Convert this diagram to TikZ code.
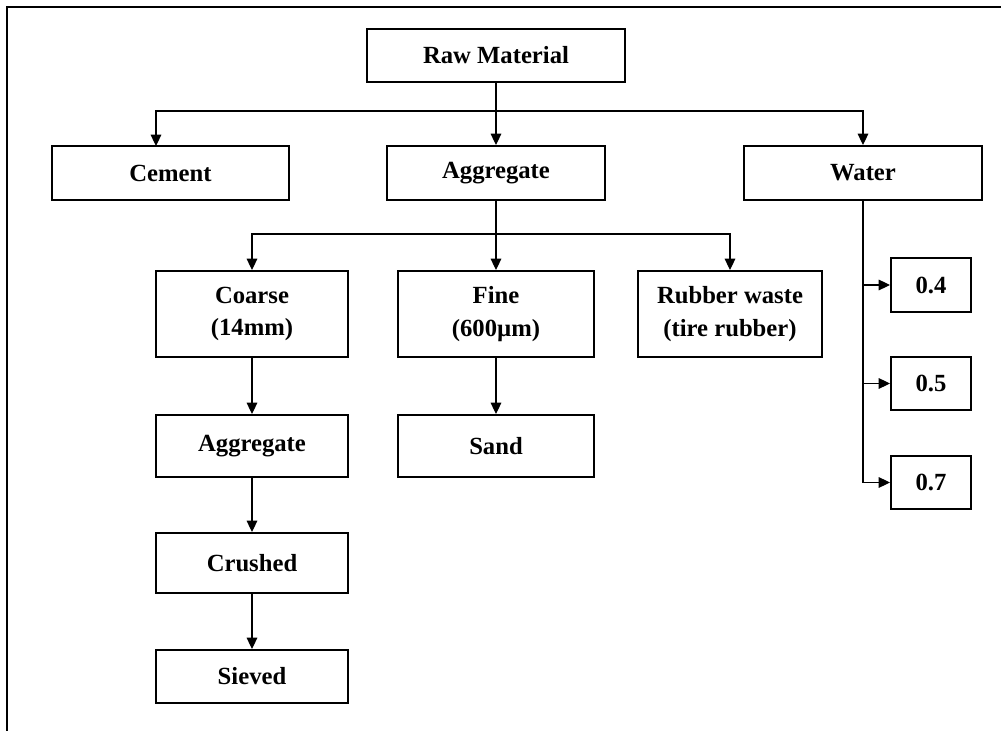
\documentclass[tikz,border=0pt]{standalone}
\usepackage{fontspec}
\setmainfont{Liberation Serif}
\usetikzlibrary{arrows.meta}
\newdimen\pxu \pxu=0.75pt

\begin{document}
\begin{tikzpicture}[x=0.75pt,y=-0.75pt,
   box/.style={draw,line width=1.5pt,inner sep=0pt,align=center,
      font=\fontsize{18.5}{24.5}\selectfont\bfseries},
   link/.style={line width=0.8pt},
   >={Triangle[length=8.5pt,width=8pt]}]
   \useasboundingbox (0,0) rectangle (1001,731);
   \draw[line width=1.5pt] (1001,7) -- (7,7) -- (7,731);
   \node[box,minimum width=258\pxu,minimum height=53\pxu] (raw) at (496,55.5) {Raw Material};
   \node[box,minimum width=237\pxu,minimum height=54\pxu] (cement) at (170.5,173) {Cement};
   \node[box,minimum width=218\pxu,minimum height=54\pxu] (agg) at (496,173) {Aggregate};
   \node[box,minimum width=238\pxu,minimum height=54\pxu] (water) at (863,173) {Water};
   \node[box,minimum width=192\pxu,minimum height=86\pxu] (coarse) at (252,314) {Coarse\\(14mm)};
   \node[box,minimum width=196\pxu,minimum height=86\pxu] (fine) at (496,314) {Fine\\(600µm)};
   \node[box,minimum width=184\pxu,minimum height=86\pxu] (rubber) at (730,314) {Rubber waste\\(tire rubber)};
   \node[box,minimum width=192\pxu,minimum height=62\pxu] (agg2) at (252,446) {Aggregate};
   \node[box,minimum width=196\pxu,minimum height=62\pxu] (sand) at (496,446) {Sand};
   \node[box,minimum width=192\pxu,minimum height=60\pxu] (crushed) at (252,563) {Crushed};
   \node[box,minimum width=192\pxu,minimum height=53\pxu] (sieved) at (252,676.5) {Sieved};
   \node[box,minimum width=80\pxu,minimum height=54\pxu] (r4) at (931,285) {0.4};
   \node[box,minimum width=80\pxu,minimum height=53\pxu] (r5) at (931,383.5) {0.5};
   \node[box,minimum width=80\pxu,minimum height=53\pxu] (r7) at (931,482.5) {0.7};
   % raw material branches
   \coordinate (top) at (496,111);
   \draw[link] (raw.south) -- (top);
   \draw[link,->] (top) -| (156,146);
   \draw[link,->] (top) -| (water.north);
   \draw[link,->] (top) -- (agg.north);
   % aggregate branches
   \coordinate (mid) at (496,234);
   \draw[link] (agg.south) -- (mid);
   \draw[link,->] (mid) -| (coarse.north);
   \draw[link,->] (mid) -| (rubber.north);
   \draw[link,->] (mid) -- (fine.north);
   % chains
   \draw[link,->] (coarse.south) -- (agg2.north);
   \draw[link,->] (agg2.south) -- (crushed.north);
   \draw[link,->] (crushed.south) -- (sieved.north);
   \draw[link,->] (fine.south) -- (sand.north);
   % water ratios
   \draw[link,->] (water.south) |- (r7.west);
   \draw[link,->] (water.south |- r4.west) -- (r4.west);
   \draw[link,->] (water.south |- r5.west) -- (r5.west);
\end{tikzpicture}
\end{document}
